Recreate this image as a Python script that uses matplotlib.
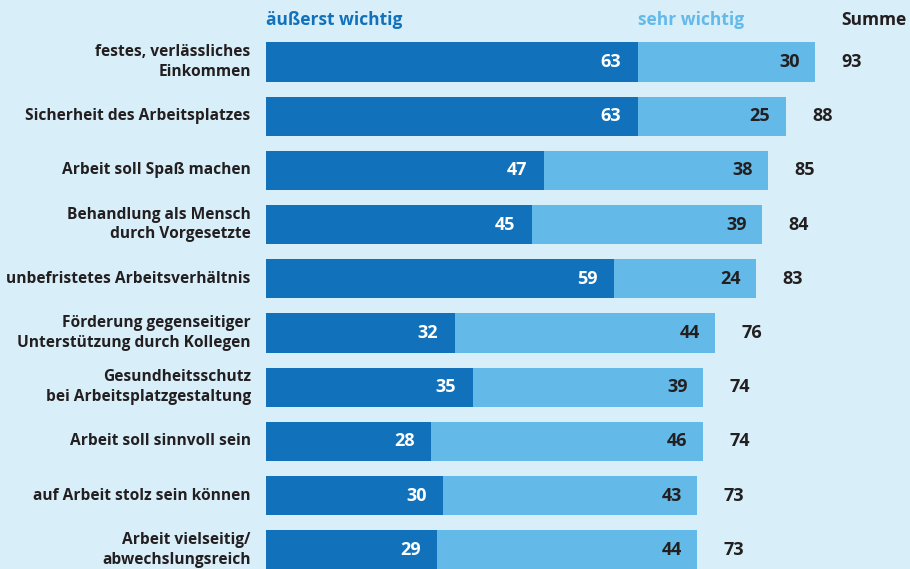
import matplotlib
matplotlib.use("Agg")
import matplotlib.pyplot as plt

# Daten: Anteil "äußerst wichtig" und "sehr wichtig" in Prozent
labels = [
    "festes, verlässliches\nEinkommen",
    "Sicherheit des Arbeitsplatzes",
    "Arbeit soll Spaß machen",
    "Behandlung als Mensch\ndurch Vorgesetzte",
    "unbefristetes Arbeitsverhältnis",
    "Förderung gegenseitiger\nUnterstützung durch Kollegen",
    "Gesundheitsschutz\nbei Arbeitsplatzgestaltung",
    "Arbeit soll sinnvoll sein",
    "auf Arbeit stolz sein können",
    "Arbeit vielseitig/\nabwechslungsreich",
]
aeusserst = [63, 63, 47, 45, 59, 32, 35, 28, 30, 29]
sehr = [30, 25, 38, 39, 24, 44, 39, 46, 43, 44]
summe = [93, 88, 85, 84, 83, 76, 74, 74, 73, 73]

bg = "#d8eef9"
dark = "#1172bb"
light = "#63b9e8"
txt = "#231f20"
font = "Open Sans"

fig = plt.figure(figsize=(9.1, 5.69), dpi=100, facecolor=bg)
ax = fig.add_axes([266 / 910, 0, 644 / 910, 1])
ax.set_facecolor(bg)

y = list(range(len(labels)))
ax.barh(y, aeusserst, height=0.72, color=dark)
ax.barh(y, sehr, left=aeusserst, height=0.72, color=light)

for i in y:
    ax.annotate(str(aeusserst[i]), (aeusserst[i], i), xytext=(-12, 0),
                textcoords="offset points", ha="right", va="center",
                color="white", fontsize=13, fontweight="bold", family=font)
    ax.annotate(str(sehr[i]), (aeusserst[i] + sehr[i], i), xytext=(-11, 0),
                textcoords="offset points", ha="right", va="center",
                color=txt, fontsize=13, fontweight="bold", family=font)
    ax.annotate(str(summe[i]), (aeusserst[i] + sehr[i], i), xytext=(19, 0),
                textcoords="offset points", ha="left", va="center",
                color=txt, fontsize=13, fontweight="bold", family=font)
    ax.annotate(labels[i], (0, i), xytext=(-11, 0),
                textcoords="offset points", ha="right", va="center",
                color=txt, fontsize=11.2, fontweight="bold", family=font,
                linespacing=1.3, annotation_clip=False)

# Kopfzeile
ax.text(0, -0.78, "äußerst wichtig", ha="left", va="center", color=dark,
        fontsize=12.5, fontweight="bold", family=font)
ax.text(63, -0.78, "sehr wichtig", ha="left", va="center", color=light,
        fontsize=12.5, fontweight="bold", family=font)
ax.text(97.5, -0.78, "Summe", ha="left", va="center", color=txt,
        fontsize=12.5, fontweight="bold", family=font)

ax.set_xlim(0, 644 / 5.905)
ax.set_ylim(9.354, -1.144)
ax.axis("off")

fig.savefig("out.png", dpi=100, facecolor=bg)
